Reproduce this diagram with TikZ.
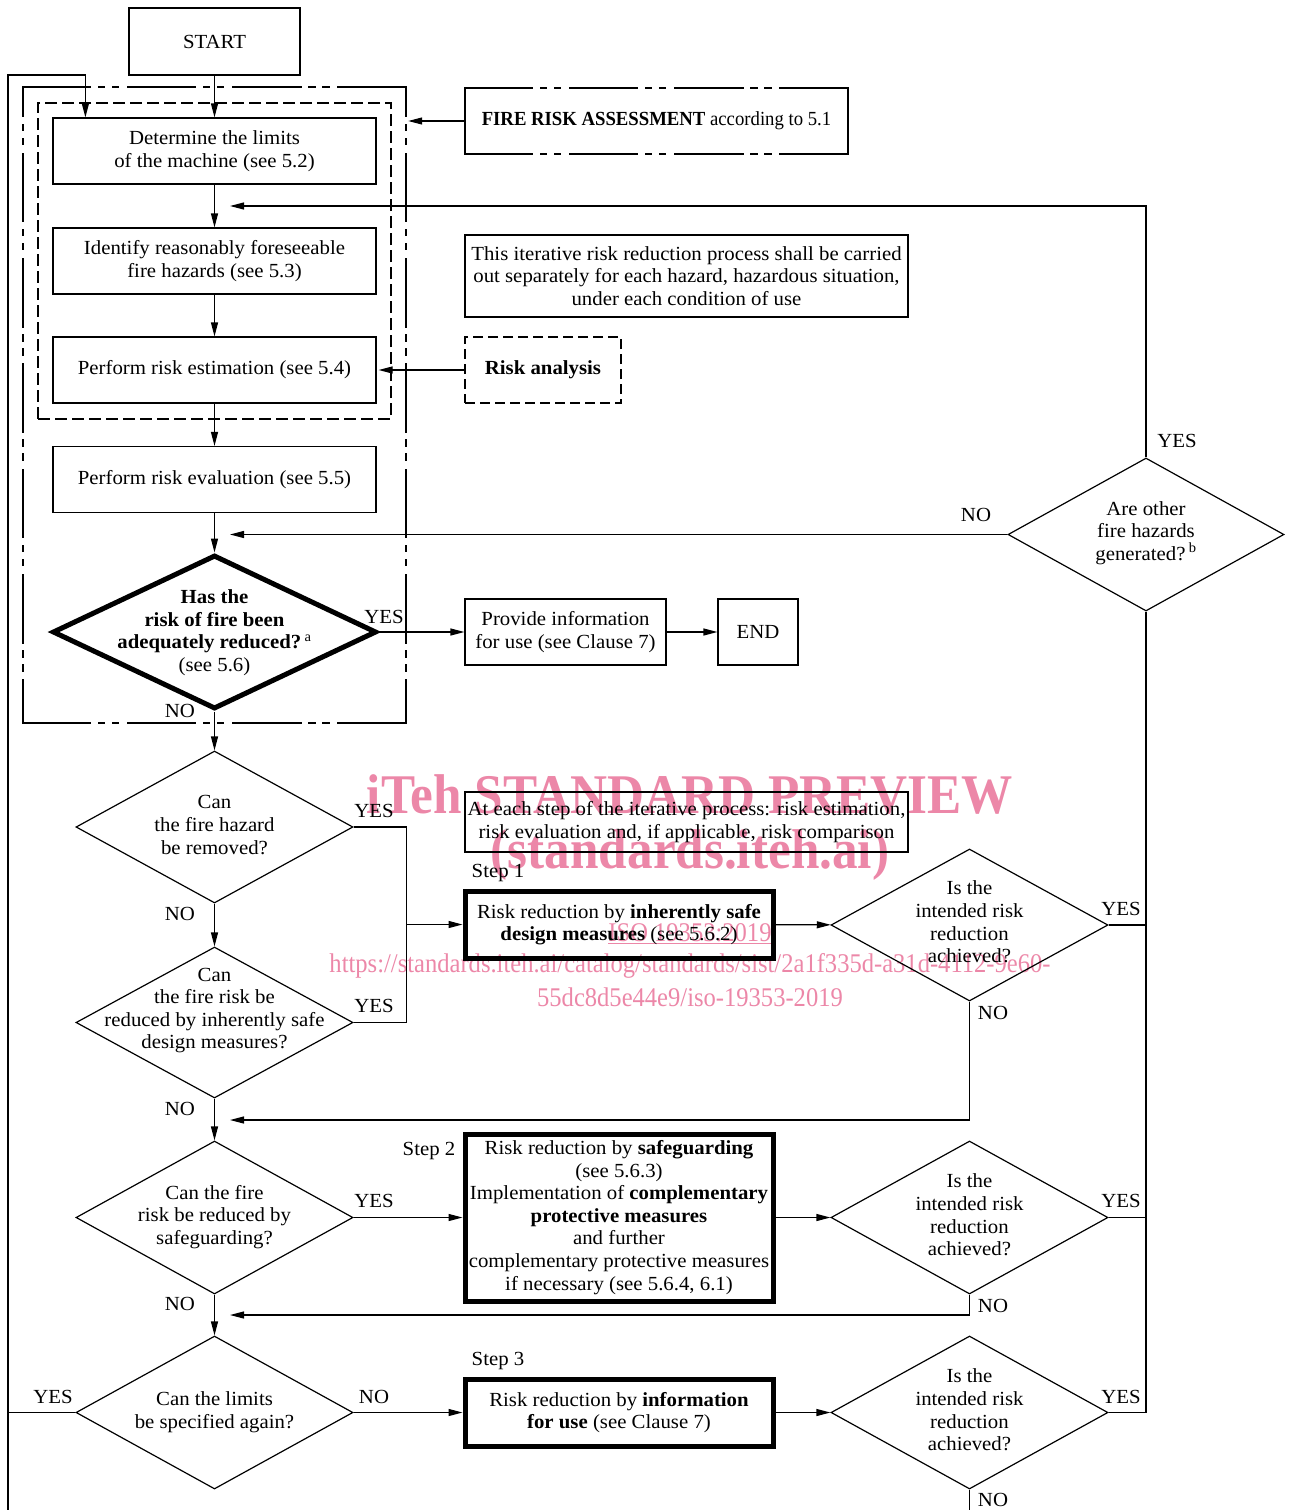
\documentclass[tikz,border=0pt]{standalone}
\usepackage{fontspec}
\setmainfont{Liberation Serif}[FakeStretch=1.04]
\newfontfamily\wmfont{Liberation Serif}
\usetikzlibrary{shapes.geometric,arrows.meta,calc}
\definecolor{wmpink}{RGB}{236,135,168}

\tikzset{
  ln/.style={line width=1.2pt},
  arr/.style={line width=1.2pt,-{Triangle[length=14pt,width=7pt]}},
  box/.style={draw,line width=1.2pt,minimum width=323pt,minimum height=66pt,align=center,inner sep=0pt},
  stepbox/.style={draw,line width=5pt,minimum width=308pt,align=center,inner sep=0pt},
  dia/.style={draw,diamond,line width=1.2pt,minimum width=277pt,minimum height=152pt,inner sep=0pt},
  qtext/.style={align=center,inner sep=0pt},
  lbl/.style={inner sep=0pt},
  frameline/.style={line width=2.5pt,line cap=rect,dash pattern=on 67pt off 9pt on 5pt off 9pt on 5pt off 10.3pt},
  wm/.style={text=wmpink,inner sep=0pt,align=center},
}

\begin{document}
\begin{tikzpicture}[x=1pt,y=-1pt,font=\fontsize{20}{22.6}\selectfont]
\useasboundingbox (0,0) rectangle (1288,1510);

% watermark, lying under the chart
\node[wm,font=\wmfont\fontsize{56}{60}\selectfont\bfseries] (wm1) at (690,794) {\scalebox{0.915}[1]{iTeh STANDARD PREVIEW}};
\node[wm,font=\wmfont\fontsize{56}{60}\selectfont\bfseries] (wm2) at (690,855) {\scalebox{0.915}[1]{(standards.iteh.ai)}};
\node[wm,font=\wmfont\fontsize{27}{30}\selectfont] (wm3) at (690,934) {\scalebox{0.91}[1]{\underline{ISO 19353:2019}}};
\node[wm,font=\wmfont\fontsize{27}{30}\selectfont] (wm4) at (690,966) {\scalebox{0.91}[1]{https://standards.iteh.ai/catalog/standards/sist/2a1f335d-a31d-4112-9e60-}};
\node[wm,font=\wmfont\fontsize{27}{30}\selectfont] (wm5) at (690,997) {\scalebox{0.91}[1]{55dc8d5e44e9/iso-19353-2019}};

% frame of the fire risk assessment (dash-dot-dot, drawn side by side)
\node[minimum width=383pt,minimum height=636pt,inner sep=0pt] (outer) at (214.5,405) {};
\draw[frameline] (outer.north west) -- (outer.north east);
\draw[frameline] (outer.south west) -- (outer.south east);
\draw[frameline,dash phase=38pt] (outer.north west) -- (outer.south west);
\draw[frameline,dash phase=38pt] (outer.north east) -- (outer.south east);

% frame of the risk analysis
\node[draw,line width=1.2pt,dash pattern=on 12pt off 5pt,minimum width=353pt,minimum height=316pt,inner sep=0pt] (inner) at (214.5,261) {};

% main column
\node[box,minimum width=171pt,minimum height=67pt] (start) at (214.5,41.5) {START};
\node[box] (det) at (214.5,151) {Determine the limits\\of the machine (see 5.2)};
\node[box] (ident) at (214.5,261) {Identify reasonably foreseeable\\fire hazards (see 5.3)};
\node[box] (est) at (214.5,370) {Perform risk estimation (see 5.4)};
\node[box] (evalb) at (214.5,479.5) {Perform risk evaluation (see 5.5)};

\node[dia,line width=5pt,minimum width=324pt,minimum height=154pt] (has) at (214.5,632) {};
\node[qtext] at (214.5,632.5) {\textbf{Has the}\\\textbf{risk of fire been}\\\textbf{adequately reduced?}\,\textsuperscript{a}\\(see 5.6)};

\node[dia] (rem) at (214.5,827) {};
\node[qtext] at (214.5,825) {Can\\the fire hazard\\be removed?};
\node[dia,minimum height=151pt] (inh) at (214.5,1022.5) {};
\node[qtext] at (214.5,1010.5) {Can\\the fire risk be\\reduced by inherently safe\\design measures?};
\node[dia,minimum height=153pt] (safe) at (214.5,1217.5) {};
\node[qtext] at (214.5,1217) {Can the fire\\risk be reduced by\\safeguarding?};
\node[dia,minimum height=153pt] (lim) at (214.5,1412.5) {};
\node[qtext] at (214.5,1412) {Can the limits\\be specified again?};

% side boxes
\node[minimum width=383pt,minimum height=66pt,inner sep=0pt] (fra) at (656.5,121) {\scalebox{0.9}[1]{\textbf{FIRE RISK ASSESSMENT} according to 5.1}};
\draw[frameline] (fra.north west) -- (fra.north east);
\draw[frameline] (fra.south west) -- (fra.south east);
\draw[frameline] (fra.north west) -- (fra.south west);
\draw[frameline] (fra.north east) -- (fra.south east);
\node[box,minimum width=443pt,minimum height=82pt] (note1) at (686.5,276) {This iterative risk reduction process shall be carried\\out separately for each hazard, hazardous situation,\\under each condition of use};
\node[box,dash pattern=on 10pt off 5pt,line width=1.5pt,minimum width=156pt] (ra) at (543,370) {\textbf{Risk analysis}};
\node[box,minimum width=201pt] (info) at (565.5,632) {Provide information\\for use (see Clause 7)};
\node[box,minimum width=80pt] (endb) at (758,632) {END};
\node[box,minimum width=443pt,minimum height=60pt] (note2) at (686.5,822) {At each step of the iterative process: risk estimation,\\risk evaluation and, if applicable, risk comparison};

% the three steps
\node[stepbox,minimum height=67pt] (s1) at (619,924.5) {Risk reduction by \textbf{inherently safe}\\\textbf{design measures} (see 5.6.2)};
\node[stepbox,minimum height=167pt] (s2) at (619,1217.5) {Risk reduction by \textbf{safeguarding}\\(see 5.6.3)\\Implementation of \textbf{complementary}\\\textbf{protective measures}\\and further\\complementary protective measures\\if necessary (see 5.6.4, 6.1)};
\node[stepbox,minimum height=67pt] (s3) at (619,1412.5) {Risk reduction by \textbf{information}\\\textbf{for use} (see Clause 7)};
\node[lbl] at (498,873) {Step 1};
\node[lbl] at (429,1151) {Step 2};
\node[lbl] at (498,1361) {Step 3};

% checks on the right
\node[dia] (ach1) at (969.5,925) {};
\node[qtext] at (969.5,922) {Is the\\intended risk\\reduction\\achieved?};
\node[dia,minimum height=153pt] (ach2) at (969.5,1217.5) {};
\node[qtext] at (969.5,1215) {Is the\\intended risk\\reduction\\achieved?};
\node[dia,minimum height=153pt] (ach3) at (969.5,1412.5) {};
\node[qtext] at (969.5,1410) {Is the\\intended risk\\reduction\\achieved?};
\node[dia,minimum width=276pt,minimum height=153pt] (other) at (1146,534.5) {};
\node[qtext] at (1146,533) {Are other\\fire hazards\\generated?\,\textsuperscript{b}};

% branch labels
\node[lbl] at (384,617) {YES};
\node[lbl] at (180,711) {NO};
\node[lbl] at (374,811) {YES};
\node[lbl] at (180,914) {NO};
\node[lbl] at (374,1006) {YES};
\node[lbl] at (180,1109) {NO};
\node[lbl] at (374,1201) {YES};
\node[lbl] at (180,1304) {NO};
\node[lbl] at (53,1397) {YES};
\node[lbl] at (374,1397) {NO};
\node[lbl] at (1121,909) {YES};
\node[lbl] at (1121,1201) {YES};
\node[lbl] at (1121,1397) {YES};
\node[lbl] at (993,1013) {NO};
\node[lbl] at (993,1306) {NO};
\node[lbl] at (993,1500) {NO};
\node[lbl] at (1177,441) {YES};
\node[lbl] at (976,515) {NO};

% loose ends of connectors
\coordinate (j1) at (230,206);
\coordinate (j3) at (230,1120);
\coordinate (j4) at (230,1315);
\coordinate (ltop) at (8,75);
\coordinate (lbot) at (8,1510);
\coordinate (bot) at (0,1510);

% connectors of the main column
\draw[arr] (start) -- (det);
\draw[arr] (det) -- (ident);
\draw[arr] (ident) -- (est);
\draw[arr] (est) -- (evalb);
\draw[arr] (evalb) -- (has);
\draw[arr] (has) -- (rem);
\draw[arr] (rem) -- (inh);
\draw[arr] (inh) -- (safe);
\draw[arr] (safe) -- (lim);

\draw[arr] (fra.west) -- ($(fra.west -| outer.east)+(2,0)$);
\draw[arr] (ra.west) -- ($(ra.west -| est.east)+(2,0)$);
\draw[arr] (has.east) -- (info.west);
\draw[arr] (info) -- (endb);

% step 1 entry from both questions
\draw[ln] (rem.east) -| (inh.east -| outer.east) -- (inh.east);
\draw[arr] (s1.west -| outer.east) -- (s1.west);
\draw[arr] (s1) -- (ach1);
\draw[arr] (safe) -- (s2);
\draw[arr] (s2) -- (ach2);
\draw[arr] (lim) -- (s3);
\draw[arr] (s3) -- (ach3);

% YES branches rising to the check for new hazards
\draw[ln] (ach1.east) -- (ach1.east -| other.south);
\draw[ln] (ach2.east) -- (ach2.east -| other.south);
\draw[ln] (ach3.east) -- (ach3.east -| other.south);
\draw[ln] (other.south) -- (ach3.east -| other.south);
\draw[arr] (other.north) |- (j1);
\draw[arr] (other.west) -- (other.west -| j1);

% NO branches returning to the main column
\draw[arr] (ach1.south) |- (j3);
\draw[arr] (ach2.south) |- (j4);
\draw[ln] (ach3.south) -- (ach3.south |- bot);

% return to the start of the process
\draw[ln] (lim.west) -- (lim.west -| ltop);
\draw[arr] (lbot) -- (ltop) -| ($(det.north west)+(33,0)$);
\end{tikzpicture}
\end{document}
